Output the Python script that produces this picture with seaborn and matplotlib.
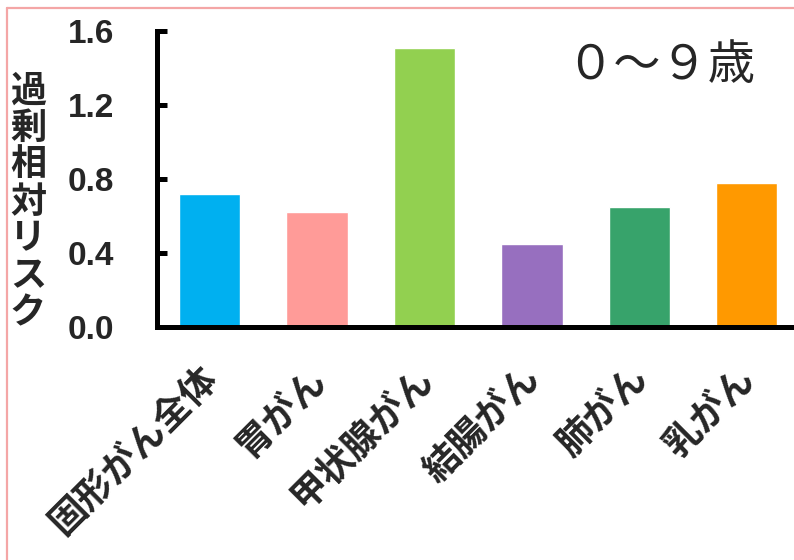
import matplotlib
matplotlib.use("Agg")
import matplotlib.pyplot as plt
import matplotlib.transforms as mtransforms
import seaborn as sns
import pandas as pd
from matplotlib.lines import Line2D

categories = ["固形がん全体", "胃がん", "甲状腺がん", "結腸がん", "肺がん", "乳がん"]
values = [0.72, 0.62, 1.51, 0.45, 0.65, 0.78]
colors = ["#00B0F0", "#FF9B98", "#92D050", "#976FBF", "#37A36B", "#FF9900"]
yticks = [0.0, 0.4, 0.8, 1.2, 1.6]
ytick_labels = ["0.0", "0.4", "0.8", "1.2", "1.6"]
ylabel = "過剰相対リスク"
annotation = "０～９歳"

sns.set_style("white")
plt.rcParams["font.family"] = ["Noto Sans CJK JP", "DejaVu Sans"]

df = pd.DataFrame({"cat": categories, "val": values})

fig = plt.figure(figsize=(7.94, 5.60), dpi=100)
ax = fig.add_axes([157 / 794, 1 - 327 / 560, (794 - 157) / 794, (327 - 31) / 560])

sns.barplot(data=df, x="cat", y="val", hue="cat", palette=dict(zip(categories, colors)),
            width=0.57, legend=False, ax=ax, saturation=1)

ax.set_xlim(-0.49, 5.44)
ax.set_ylim(0, 1.6)
ax.set_xlabel("")
ax.set_ylabel("")

for s in ["top", "right"]:
    ax.spines[s].set_visible(False)
for s in ["left", "bottom"]:
    ax.spines[s].set_linewidth(3.6)
    ax.spines[s].set_color("black")
ax.spines["left"].set_capstyle("projecting")

ax.set_yticks(yticks)
ax.set_yticklabels(ytick_labels, fontsize=24, fontweight="bold", family=["Liberation Sans"])
ax.tick_params(axis="y", direction="in", length=7, width=3.6, pad=31, left=True, color="black")
ax.tick_params(axis="x", length=0, pad=24)
ax.set_xticks(range(len(categories)))
ax.set_xticklabels(categories, rotation=45, ha="right", va="top", rotation_mode="anchor",
                   fontsize=26.5, fontweight="bold")
offset = mtransforms.ScaledTranslation(-10 / 100, 0, fig.dpi_scale_trans)
for lab in ax.get_xticklabels():
    lab.set_transform(lab.get_transform() + offset)

fig.text(28 / 794, 1 - 202 / 560, "\n".join(ylabel), ha="center", va="center",
         fontsize=26, fontweight="bold", linespacing=1.0)

fig.text(661 / 794, 1 - 66 / 560, annotation, ha="center", va="center", fontsize=34)

# pink frame
fig.add_artist(Line2D([7 / 794, 7 / 794], [0, 1 - 8 / 560], transform=fig.transFigure,
                      color="#F4A6A6", linewidth=1.6))
fig.add_artist(Line2D([7 / 794, 1], [1 - 8 / 560, 1 - 8 / 560], transform=fig.transFigure,
                      color="#F4A6A6", linewidth=1.6))

fig.savefig("out.png", dpi=100)
